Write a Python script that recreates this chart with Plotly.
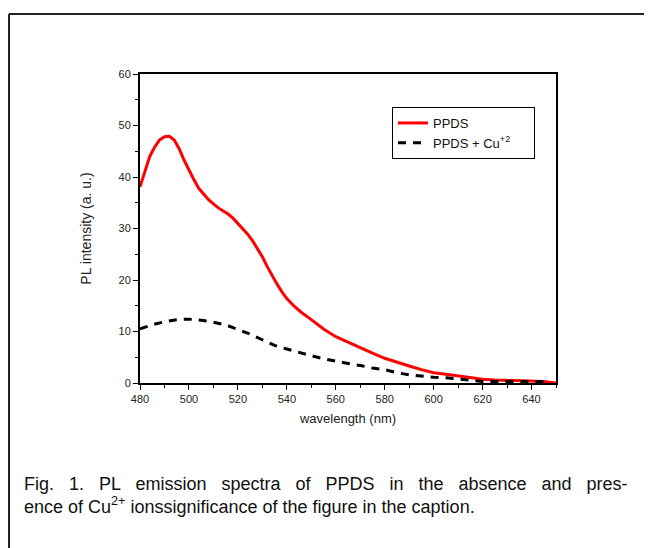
import plotly.graph_objects as go

# ---- data ----
wl_ppds = [480, 482, 484, 486, 488, 490, 492, 494, 496, 498, 500, 502, 504, 506, 508,
           510, 512, 514, 516, 518, 520, 522, 524, 526, 528, 530, 532, 534, 536, 538,
           540, 543, 546, 550, 555, 560, 565, 570, 575, 580, 585, 590, 595, 600, 605,
           610, 615, 620, 625, 630, 635, 640, 645, 650]
pl_ppds = [38.1, 41.0, 44.0, 45.8, 47.2, 47.8, 47.9, 47.2, 45.5, 43.3, 41.3, 39.5, 37.8, 36.6, 35.6,
           34.8, 34.0, 33.4, 32.8, 32.0, 31.0, 30.0, 28.9, 27.6, 26.1, 24.5, 22.6, 20.8, 19.2, 17.7,
           16.4, 14.9, 13.7, 12.3, 10.5, 9.0, 7.9, 6.8, 5.8, 4.8, 4.0, 3.3, 2.6, 2.0, 1.7,
           1.4, 1.0, 0.75, 0.6, 0.5, 0.4, 0.3, 0.3, 0.0]

wl_cu = [480, 485, 490, 495, 500, 505, 510, 515, 520, 525, 530, 535, 540, 545, 550,
         555, 560, 565, 570, 575, 580, 585, 590, 595, 600, 605, 610, 615, 620, 625,
         630, 635, 640, 646]
pl_cu = [10.5, 11.3, 11.9, 12.3, 12.4, 12.2, 11.8, 11.3, 10.4, 9.5, 8.4, 7.3, 6.6, 5.9, 5.3,
         4.7, 4.2, 3.8, 3.4, 2.9, 2.6, 2.0, 1.6, 1.3, 1.1, 1.0, 0.8, 0.5, 0.3, 0.3,
         0.3, 0.3, 0.3, 0.3]

x_ticks = [480, 500, 520, 540, 560, 580, 600, 620, 640]
y_ticks = [0, 10, 20, 30, 40, 50, 60]

NB = "\u00a0"
caption_words1 = ["Fig.", "1.", "PL", "emission", "spectra", "of", "PPDS", "in", "the",
                  "absence", "and", "pres-"]
caption_line2 = "ence of Cu<sup>2+</sup> ionssignificance of the figure in the caption."
# justified first line: widen the word gaps
caption_line1 = (" " + NB + NB).join(caption_words1)

FONT = "Liberation Sans, Arial, sans-serif"

fig = go.Figure()
fig.add_trace(go.Scatter(x=wl_ppds, y=pl_ppds, mode="lines", name="PPDS",
                         line=dict(color="#ff0000", width=3)))
fig.add_trace(go.Scatter(x=wl_cu, y=pl_cu, mode="lines", name="PPDS + Cu<sup>+2</sup>" + NB * 5,
                         line=dict(color="#000000", width=3, dash="8px,7px")))

OX, OY = 8, 8            # page offset of the figure (browser body margin)
W, H = 652 - OX, 548 - OY
PL, PR, PT, PB = 140, 556, 74, 383   # plot area in page pixels
L, T = PL - OX, PT - OY
R, B = OX + W - PR, OY + H - PB
pw, ph = PR - PL, PB - PT

def px(x):
    return (x - PL) / pw

def py(y):
    return (PB - y) / ph

fig.update_layout(
    width=W, height=H,
    margin=dict(l=L, r=R, t=T, b=B, pad=0),
    paper_bgcolor="white", plot_bgcolor="white",
    font=dict(family=FONT, color="#222222"),
    showlegend=True,
    legend=dict(x=px(392), y=py(107), xanchor="left", yanchor="top",
                bordercolor="black", borderwidth=1, bgcolor="white",
                font=dict(size=13, color="#111111", family=FONT),
                tracegroupgap=0, itemwidth=30),
    xaxis=dict(range=[480, 650], tickvals=x_ticks, ticks="outside", ticklen=5,
               tickwidth=1, tickcolor="black", showline=True, linecolor="black",
               linewidth=2, mirror=True, showgrid=False, zeroline=False,
               tickfont=dict(size=11, color="#222222"),
               minor=dict(ticks="outside", ticklen=3, tickwidth=1, tickcolor="black", dtick=10, tick0=480),
               title=dict(text="wavelength (nm)", font=dict(size=13, color="#222222"), standoff=10)),
    yaxis=dict(range=[0, 60], tickvals=y_ticks, ticks="outside", ticklen=5,
               tickwidth=1, tickcolor="black", showline=True, linecolor="black",
               linewidth=2, mirror=True, showgrid=False, zeroline=False,
               tickfont=dict(size=11, color="#222222"),
               minor=dict(ticks="outside", ticklen=3, tickwidth=1, tickcolor="black", dtick=5, tick0=0),
               title=dict(text="PL intensity (a. u.)", font=dict(size=14, color="#222222"), standoff=24)),
)

# outer frame (left and top edges)
fig.add_shape(type="line", xref="paper", yref="paper", x0=px(9), y0=py(560), x1=px(9), y1=py(14),
              line=dict(color="#222222", width=2))
fig.add_shape(type="line", xref="paper", yref="paper", x0=px(9), y0=py(14), x1=px(660), y1=py(14),
              line=dict(color="#222222", width=2))

fig.add_annotation(xref="paper", yref="paper", x=px(22), y=py(484), xanchor="left", yanchor="middle",
                   text=caption_line1, showarrow=False, align="left",
                   font=dict(size=18, family=FONT, color="#111111"))
fig.add_annotation(xref="paper", yref="paper", x=px(22), y=py(505), xanchor="left", yanchor="middle",
                   text=caption_line2, showarrow=False, align="left",
                   font=dict(size=18, family=FONT, color="#111111"))

fig.write_html("out.html")
